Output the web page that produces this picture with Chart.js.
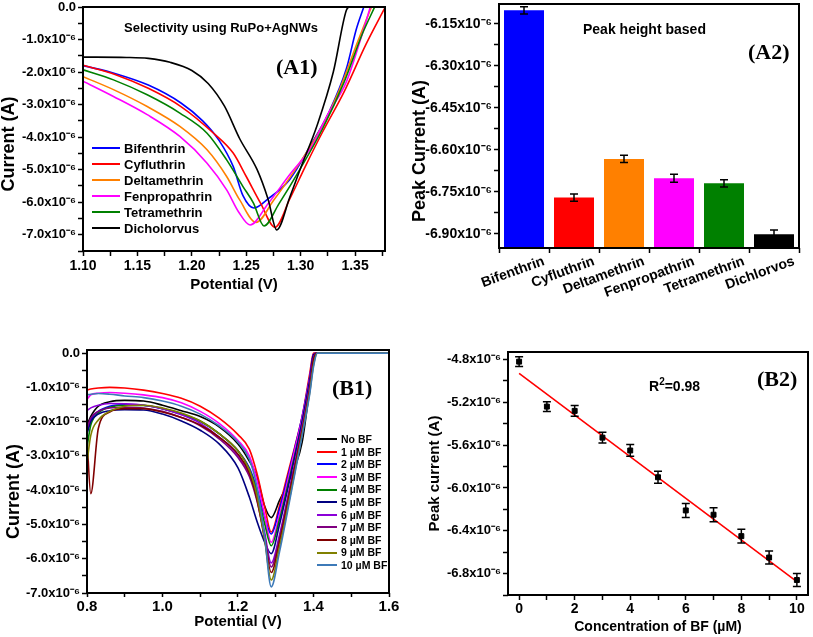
<!DOCTYPE html>
<html>
<head>
<meta charset="utf-8">
<script src="https://cdn.jsdelivr.net/npm/chart.js@4.4.1/dist/chart.umd.min.js"></script>
<style>
  body {
    margin: 0;
    width: 813px;
    height: 637px;
    position: relative;
    overflow: hidden;
    background: #fff;
    font-family: "Liberation Sans", Arial, sans-serif;
    color: #000;
  }
  .panel { position: absolute; }
  .panel canvas { display: block; }
  .note {
    position: absolute;
    font-weight: bold;
    white-space: nowrap;
    line-height: 1;
  }
  .tag { font-family: "Liberation Serif", "Times New Roman", serif; font-size: 22px; }
  .legend-row {
    position: absolute;
    display: flex;
    align-items: center;
    font-weight: bold;
    white-space: nowrap;
    line-height: 1;
  }
  .swatch { display: inline-block; height: 2px; margin-right: 4px; }
</style>
</head>
<body>
<div class="panel" style="left:0;top:0"><canvas id="chartA1" width="400" height="300"></canvas></div>
<div class="panel" style="left:400px;top:0"><canvas id="chartA2" width="413" height="300"></canvas></div>
<div class="panel" style="left:0;top:310px"><canvas id="chartB1" width="400" height="327"></canvas></div>
<div class="panel" style="left:400px;top:310px"><canvas id="chartB2" width="413" height="327"></canvas></div>

<div class="note" style="left:124px;top:21px;font-size:13px">Selectivity using RuPo+AgNWs</div>
<div class="note tag" style="left:276px;top:56px">(A1)</div>
<div class="note" style="left:583px;top:22px;font-size:14px">Peak height based</div>
<div class="note tag" style="left:748px;top:41px">(A2)</div>
<div class="note tag" style="left:332px;top:377px">(B1)</div>
<div class="note" style="left:649px;top:377px;font-size:14px">R<sup style="font-size:10px;vertical-align:6px">2</sup>=0.98</div>
<div class="note tag" style="left:757px;top:368px">(B2)</div>

<script>
const SCI = "x10\u207B\u2076";

// ---- (A1) selectivity voltammograms: potential (V) / current (x10^-6 A)
const A1_LABELS = ["Bifenthrin", "Cyfluthrin", "Deltamethrin", "Fenpropathrin", "Tetramethrin", "Dicholorvus"];
const A1_COLORS = ["#0000ff", "#ff0000", "#ff8000", "#ff00ff", "#008000", "#000000"];

const bifenthrinV = [1.10, 1.13, 1.16, 1.19, 1.21, 1.225, 1.238, 1.247, 1.257, 1.27, 1.29, 1.31, 1.325, 1.342, 1.351, 1.358];
const bifenthrinI = [-1.80, -2.05, -2.40, -2.95, -3.50, -4.10, -4.90, -5.80, -6.18, -5.90, -5.30, -4.20, -3.30, -1.90, -0.70, 0];
const cyfluthrinV = [1.10, 1.13, 1.16, 1.19, 1.22, 1.238, 1.25, 1.263, 1.2765, 1.29, 1.305, 1.32, 1.34, 1.36, 1.377];
const cyfluthrinI = [-1.79, -2.08, -2.50, -3.06, -3.88, -4.49, -5.21, -6.02, -6.77, -5.90, -4.85, -3.85, -2.60, -1.15, -0.05];
const deltamethrinV = [1.10, 1.128, 1.159, 1.189, 1.214, 1.232, 1.244, 1.259, 1.275, 1.295, 1.315, 1.335, 1.352, 1.365];
const deltamethrinI = [-2.14, -2.54, -3.06, -3.67, -4.39, -5.21, -5.93, -6.62, -5.95, -5.00, -3.95, -2.60, -1.10, 0];
const fenpropathrinV = [1.10, 1.128, 1.159, 1.189, 1.214, 1.232, 1.243, 1.2535, 1.27, 1.29, 1.31, 1.325, 1.342, 1.355, 1.364];
const fenpropathrinI = [-2.28, -2.75, -3.31, -3.98, -4.80, -5.62, -6.30, -6.70, -6.05, -5.15, -4.30, -3.30, -2.30, -1.00, 0];
const tetramethrinV = [1.10, 1.128, 1.159, 1.189, 1.214, 1.232, 1.247, 1.2565, 1.2663, 1.28, 1.30, 1.32, 1.34, 1.357, 1.368];
const tetramethrinI = [-1.93, -2.24, -2.70, -3.26, -3.88, -4.70, -5.52, -6.02, -6.73, -6.05, -4.95, -3.75, -2.30, -0.80, 0];
const dichlorvusV = [1.10, 1.14, 1.16, 1.18, 1.20, 1.215, 1.23, 1.244, 1.26, 1.27, 1.278, 1.29, 1.30, 1.315, 1.33, 1.342, 1.345, 1.36];
const dichlorvusI = [-1.54, -1.55, -1.58, -1.70, -1.95, -2.35, -3.05, -4.05, -5.00, -5.90, -6.85, -5.85, -4.95, -3.65, -2.00, -0.10, 0, 0];

const A1_SERIES = [
  [bifenthrinV, bifenthrinI],
  [cyfluthrinV, cyfluthrinI],
  [deltamethrinV, deltamethrinI],
  [fenpropathrinV, fenpropathrinI],
  [tetramethrinV, tetramethrinI],
  [dichlorvusV, dichlorvusI],
];

// ---- (A2) peak currents (x10^-6 A)
const A2_LABELS = ["Bifenthrin", "Cyfluthrin", "Deltamethrin", "Fenpropathrin", "Tetramethrin", "Dichlorvos"];
const A2_COLORS = ["#0000ff", "#ff0000", "#ff8000", "#ff00ff", "#008000", "#000000"];
const A2_PEAKS = [-6.101, -6.770, -6.632, -6.701, -6.719, -6.901];
const A2_ERRORS = [0.013, 0.013, 0.013, 0.014, 0.013, 0.015];

// ---- (B1) bifenthrin concentration series
const B1_LABELS = ["No BF", "1 \u00B5M BF", "2 \u00B5M BF", "3 \u00B5M BF", "4 \u00B5M BF", "5 \u00B5M BF",
  "6 \u00B5M BF", "7 \u00B5M BF", "8 \u00B5M BF", "9 \u00B5M BF", "10 \u00B5M BF"];
const B1_COLORS = ["#000000", "#ff0000", "#0000ff", "#ff00ff", "#008000", "#000080",
  "#8b00d8", "#800080", "#800000", "#808000", "#3d7ab8"];
const b1Potential = [0.80, 0.81, 0.83, 0.86, 0.90, 0.95, 1.00, 1.05, 1.10, 1.15, 1.20, 1.23, 1.25,
  1.27, 1.288, 1.31, 1.33, 1.35, 1.37, 1.39, 1.40, 1.41, 1.60];
const noBF = [-2.10, -1.85, -1.55, -1.42, -1.38, -1.40, -1.52, -1.68, -1.85, -2.15, -2.65, -3.15, -3.60,
  -4.45, -4.80, -4.30, -3.85, -3.35, -2.60, -1.00, -0.05, 0, 0];
const bf1 = [-1.08, -1.05, -1.02, -1.00, -1.02, -1.08, -1.18, -1.32, -1.55, -1.90, -2.38, -2.80, -3.50,
  -4.45, -5.22, -4.45, -3.60, -2.75, -1.85, -0.60, 0, 0, 0];
const bf2 = [-2.30, -1.95, -1.70, -1.55, -1.50, -1.52, -1.62, -1.78, -2.00, -2.35, -2.85, -3.35, -3.95,
  -4.75, -5.28, -4.55, -3.70, -2.80, -1.85, -0.70, -0.05, 0, 0];
const bf3 = [-1.35, -1.22, -1.17, -1.15, -1.17, -1.22, -1.30, -1.45, -1.70, -2.05, -2.55, -3.00, -3.70,
  -4.70, -5.52, -4.70, -3.80, -2.85, -1.90, -0.75, -0.05, 0, 0];
const bf4 = [-2.75, -2.10, -1.75, -1.58, -1.52, -1.53, -1.62, -1.78, -1.98, -2.35, -2.85, -3.40, -4.05,
  -4.95, -5.62, -4.85, -3.95, -3.00, -2.00, -0.85, -0.10, 0, 0];
const bf5 = [-2.35, -2.00, -1.78, -1.68, -1.65, -1.66, -1.78, -1.98, -2.25, -2.65, -3.35, -4.20, -4.90,
  -5.50, -5.85, -5.00, -4.05, -3.05, -2.00, -0.80, -0.05, 0, 0];
const bf6 = [-1.68, -1.60, -1.52, -1.47, -1.48, -1.52, -1.62, -1.80, -2.05, -2.45, -3.00, -3.55, -4.20,
  -5.20, -6.12, -5.30, -4.30, -3.25, -2.15, -0.95, -0.15, 0, 0];
const bf7 = [-2.20, -1.90, -1.70, -1.60, -1.58, -1.60, -1.70, -1.88, -2.12, -2.50, -3.05, -3.60, -4.30,
  -5.30, -6.24, -5.40, -4.35, -3.30, -2.20, -1.00, -0.15, 0, 0];
const bf8 = [-2.50, -4.10, -2.20, -1.72, -1.62, -1.62, -1.72, -1.88, -2.10, -2.45, -2.95, -3.50, -4.25,
  -5.40, -6.40, -5.50, -4.45, -3.35, -2.25, -1.05, -0.20, 0, 0];
const bf9 = [-3.20, -2.40, -1.95, -1.70, -1.55, -1.52, -1.60, -1.75, -1.98, -2.35, -2.85, -3.40, -4.15,
  -5.40, -6.62, -5.65, -4.60, -3.50, -2.35, -1.15, -0.35, 0, 0];
const bf10 = [-1.22, -1.20, -1.18, -1.20, -1.25, -1.30, -1.40, -1.55, -1.78, -2.12, -2.60, -3.10, -3.90,
  -5.30, -6.82, -5.80, -4.70, -3.55, -2.40, -1.20, -0.40, 0, 0];
const B1_SERIES = [noBF, bf1, bf2, bf3, bf4, bf5, bf6, bf7, bf8, bf9, bf10];

// ---- (B2) calibration
const B2_CONC = [0, 1, 2, 3, 4, 5, 6, 7, 8, 9, 10];
const B2_PEAKS = [-4.82, -5.24, -5.28, -5.53, -5.65, -5.90, -6.21, -6.25, -6.45, -6.65, -6.86];
const B2_ERRORS = [0.045, 0.045, 0.05, 0.05, 0.055, 0.055, 0.065, 0.065, 0.065, 0.06, 0.06];
const B2_FIT_X = [0, 10];
const B2_FIT_Y = [-4.93, -6.875];


Chart.defaults.font.family = "'Liberation Sans', Arial, sans-serif";
Chart.defaults.font.weight = "bold";
Chart.defaults.color = "#000";
Chart.defaults.animation = false;

const NB = "\u00A0";

function onStep(value, step) {
  const r = value / step;
  return Math.abs(r - Math.round(r)) < 1e-6;
}

function sci(value, digits) {
  if (Math.abs(value) < 1e-9) {
    return "0.0";
  }
  return value.toFixed(digits) + SCI;
}

function toPoints(xs, ys) {
  return xs.map((x, i) => ({ x, y: ys[i] }));
}

// the y titles sit above the axis middle in the original; trailing spaces lift them
function lifted(text, spaces) {
  return text + NB.repeat(spaces);
}

function fitY(width) {
  return (s) => {
    s.width = width;
    s.paddingTop = 0;
    s.paddingBottom = 0;
  };
}

function fitX(height) {
  return (s) => {
    s.height = height;
    s.paddingLeft = 0;
    s.paddingRight = 0;
  };
}

// box frame round the plot area
const framePlugin = {
  id: "frame",
  afterDraw(chart) {
    const { ctx, chartArea } = chart;
    ctx.save();
    ctx.strokeStyle = "#000";
    ctx.lineWidth = 2;
    ctx.strokeRect(chartArea.left, chartArea.top, chartArea.right - chartArea.left, chartArea.bottom - chartArea.top);
    ctx.restore();
  },
};

const errorBarPlugin = {
  id: "errorBars",
  afterDatasetsDraw(chart, args, opts) {
    if (!opts || !opts.errors) {
      return;
    }
    const meta = chart.getDatasetMeta(opts.datasetIndex);
    const data = chart.data.datasets[opts.datasetIndex].data;
    const yScale = chart.scales.y;
    const ctx = chart.ctx;
    ctx.save();
    ctx.strokeStyle = "#000";
    ctx.lineWidth = 1.5;
    meta.data.forEach((el, i) => {
      const v = typeof data[i] === "object" ? data[i].y : data[i];
      const top = yScale.getPixelForValue(v + opts.errors[i]);
      const bot = yScale.getPixelForValue(v - opts.errors[i]);
      ctx.beginPath();
      ctx.moveTo(el.x, top);
      ctx.lineTo(el.x, bot);
      ctx.moveTo(el.x - opts.cap, top);
      ctx.lineTo(el.x + opts.cap, top);
      ctx.moveTo(el.x - opts.cap, bot);
      ctx.lineTo(el.x + opts.cap, bot);
      ctx.stroke();
    });
    ctx.restore();
  },
};

function makeScale(cfg) {
  const ticks = {
    stepSize: cfg.step,
    includeBounds: false,
    autoSkip: false,
    maxRotation: cfg.rotation || 0,
    minRotation: cfg.rotation || 0,
    padding: cfg.tickPad ?? 2,
    labelOffset: cfg.labelOffset || 0,
    font: { size: cfg.size, weight: "bold" },
  };
  if (cfg.format) {
    ticks.callback = cfg.format;
  }
  return {
    type: cfg.type || "linear",
    min: cfg.min,
    max: cfg.max,
    border: { display: false },
    grid: {
      drawOnChartArea: false,
      drawTicks: true,
      tickLength: cfg.tickLength || 5,
      tickColor: "#000",
      tickWidth: 1.5,
    },
    ticks,
    title: {
      display: !!cfg.title,
      text: cfg.title,
      font: { size: cfg.titleSize, weight: "bold", lineHeight: 1 },
      padding: cfg.titlePad || 0,
    },
    afterFit: cfg.fit,
  };
}

const lineDefaults = {
  borderWidth: 1.6,
  pointRadius: 0,
  fill: false,
  cubicInterpolationMode: "monotone",
};

// (A1)
new Chart(document.getElementById("chartA1"), {
  type: "line",
  data: {
    datasets: A1_SERIES.map(([xs, ys], i) => ({
      label: A1_LABELS[i],
      data: toPoints(xs, ys),
      borderColor: A1_COLORS[i],
      order: A1_SERIES.length - i,
      ...lineDefaults,
    })),
  },
  options: {
    responsive: false,
    devicePixelRatio: 1,
    layout: { padding: { top: 7, right: 15, left: 0, bottom: 0 } },
    plugins: { legend: { display: false }, tooltip: { enabled: false } },
    scales: {
      x: makeScale({
        min: 1.10, max: 1.3775, step: 0.025, size: 14,
        format: (v) => (onStep(v, 0.05) ? v.toFixed(2) : ""),
        title: "Potential (V)", titleSize: 15, titlePad: { bottom: 8 },
        fit: fitX(49),
      }),
      y: makeScale({
        min: -7.5, max: 0, step: 0.5, size: 13,
        format: (v) => (onStep(v, 1) ? sci(v, 1) : ""),
        title: lifted("Current (A)", 6), titleSize: 18, titlePad: { top: 0 },
        fit: fitY(83),
      }),
    },
  },
  plugins: [framePlugin],
});

// (A2)
new Chart(document.getElementById("chartA2"), {
  type: "bar",
  data: {
    labels: A2_LABELS,
    datasets: [{
      data: A2_PEAKS,
      base: -6.95,
      backgroundColor: A2_COLORS,
      borderWidth: 0,
      categoryPercentage: 0.8,
      barPercentage: 1,
    }],
  },
  options: {
    responsive: false,
    devicePixelRatio: 1,
    layout: { padding: { top: 4, right: 14, left: 0, bottom: 0 } },
    plugins: {
      legend: { display: false },
      tooltip: { enabled: false },
      errorBars: { datasetIndex: 0, errors: A2_ERRORS, cap: 4 },
    },
    scales: {
      x: makeScale({
        type: "category", size: 14, rotation: 20, labelOffset: 20, tickPad: 0,
        fit: fitX(52),
      }),
      y: makeScale({
        min: -6.95, max: -6.0786, step: 0.075, size: 14,
        format: (v) => (onStep(v, 0.15) ? sci(v, 2) : ""),
        title: lifted("Peak Current (A)", 10), titleSize: 18, titlePad: { top: 11 },
        fit: fitY(99),
      }),
    },
  },
  plugins: [framePlugin, errorBarPlugin],
});

// (B1)
new Chart(document.getElementById("chartB1"), {
  type: "line",
  data: {
    datasets: B1_SERIES.map((ys, i) => ({
      label: B1_LABELS[i],
      data: toPoints(b1Potential, ys),
      borderColor: B1_COLORS[i],
      order: B1_SERIES.length - i,
      ...lineDefaults,
    })),
  },
  options: {
    responsive: false,
    devicePixelRatio: 1,
    layout: { padding: { top: 40, right: 11, left: 0, bottom: 0 } },
    plugins: { legend: { display: false }, tooltip: { enabled: false } },
    scales: {
      x: makeScale({
        min: 0.8, max: 1.6, step: 0.1, size: 15, tickLength: 4, tickPad: 1,
        format: (v) => (onStep(v, 0.2) ? v.toFixed(1) : ""),
        title: "Potential (V)", titleSize: 15, titlePad: { bottom: 8 },
        fit: fitX(44),
      }),
      y: makeScale({
        min: -7.0, max: 0.09, step: 0.5, size: 13,
        format: (v) => (onStep(v, 1) ? sci(v, 1) : ""),
        title: lifted("Current (A)", 8), titleSize: 18, titlePad: { top: 5 },
        fit: fitY(87),
      }),
    },
  },
  plugins: [framePlugin],
});

// (B2)
new Chart(document.getElementById("chartB2"), {
  type: "scatter",
  data: {
    datasets: [
      {
        data: toPoints(B2_CONC, B2_PEAKS),
        pointStyle: "rect",
        pointRadius: 3.5,
        backgroundColor: "#000",
        borderColor: "#000",
        order: 0,
      },
      {
        type: "line",
        data: toPoints(B2_FIT_X, B2_FIT_Y),
        borderColor: "#ff0000",
        borderWidth: 1.6,
        pointRadius: 0,
        order: 1,
      },
    ],
  },
  options: {
    responsive: false,
    devicePixelRatio: 1,
    layout: { padding: { top: 42, right: 3, left: 0, bottom: 0 } },
    plugins: {
      legend: { display: false },
      tooltip: { enabled: false },
      errorBars: { datasetIndex: 0, errors: B2_ERRORS, cap: 4 },
    },
    scales: {
      x: makeScale({
        min: -0.4, max: 10.4, step: 1, size: 14, tickPad: 1,
        format: (v) => (onStep(v, 2) ? String(Math.round(v)) : ""),
        title: "Concentration of BF (\u00B5M)", titleSize: 14, titlePad: { bottom: 3 },
        fit: fitX(42),
      }),
      y: makeScale({
        min: -7.0, max: -4.73, step: 0.2, size: 13,
        format: (v) => (onStep(v, 0.4) ? sci(v, 1) : ""),
        title: "Peak current (A)", titleSize: 15, titlePad: { top: 27 },
        fit: fitY(108),
      }),
    },
  },
  plugins: [framePlugin, errorBarPlugin],
});

// inset legends
function buildLegend(labels, colors, cfg) {
  labels.forEach((label, i) => {
    const row = document.createElement("div");
    row.className = "legend-row";
    row.style.left = `${cfg.left}px`;
    row.style.top = `${cfg.top + i * cfg.gap}px`;
    row.style.fontSize = `${cfg.size}px`;
    row.style.height = `${cfg.size}px`;
    const swatch = document.createElement("span");
    swatch.className = "swatch";
    swatch.style.width = `${cfg.line}px`;
    swatch.style.background = colors[i];
    row.appendChild(swatch);
    row.appendChild(document.createTextNode(label));
    document.body.appendChild(row);
  });
}

buildLegend(A1_LABELS, A1_COLORS, { left: 92, top: 141.5, gap: 16, size: 13, line: 28 });
buildLegend(B1_LABELS, B1_COLORS, { left: 317, top: 434, gap: 12.6, size: 10.5, line: 20 });
</script>
</body>
</html>
